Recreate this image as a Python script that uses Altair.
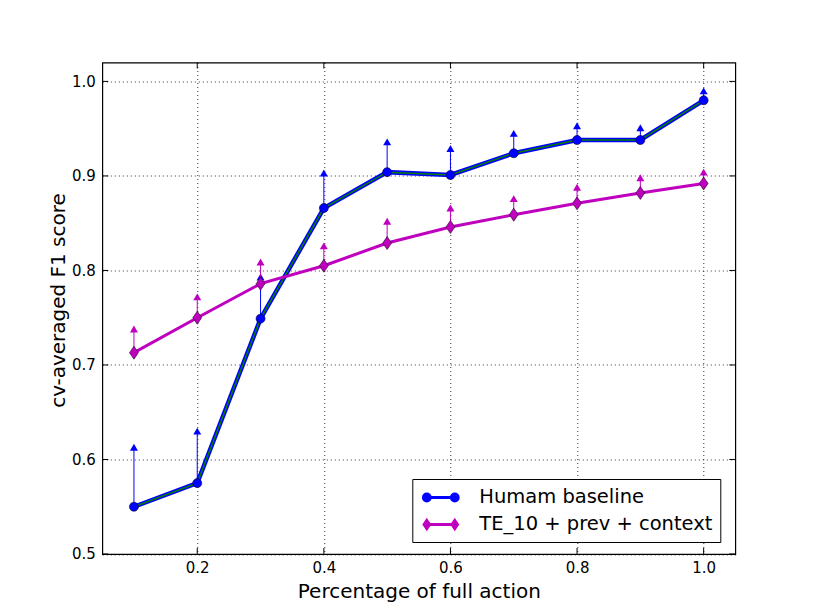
import altair as alt
import pandas as pd

# ---------------- data ----------------
pct = [0.1, 0.2, 0.3, 0.4, 0.5, 0.6, 0.7, 0.8, 0.9, 1.0]
human_f1 = [0.550, 0.575, 0.749, 0.866, 0.904, 0.901, 0.924, 0.938, 0.938, 0.980]
human_upper = [0.613, 0.630, 0.793, 0.903, 0.936, 0.929, 0.945, 0.953, 0.951, 0.990]
te_f1 = [0.713, 0.750, 0.786, 0.805, 0.829, 0.846, 0.859, 0.871, 0.882, 0.892]
te_upper = [0.738, 0.772, 0.809, 0.826, 0.852, 0.866, 0.876, 0.888, 0.898, 0.904]
series_names = ["Humam baseline", "TE_10 + prev + context"]
x_ticks = [0.2, 0.4, 0.6, 0.8, 1.0]
y_ticks = [0.5, 0.6, 0.7, 0.8, 0.9, 1.0]

df_h = pd.DataFrame({"pct": pct, "f1": human_f1, "upper": human_upper})
df_t = pd.DataFrame({"pct": pct, "f1": te_f1, "upper": te_upper})
df_xt = pd.DataFrame({"pct": x_ticks})
df_yt = pd.DataFrame({"f1": y_ticks})
df_leg = pd.DataFrame({"series": series_names})

# ---------------- style ----------------
W, H = 633, 491.5
FONT = "DejaVu Sans"
BLUE = "#0000ff"
GREEN = "#007f00"
MAG = "#bf00bf"
TICK = 6

xscale = alt.Scale(domain=[0.05, 1.05], nice=False, zero=False)
yscale = alt.Scale(domain=[0.5, 1.02], nice=False, zero=False)
xaxis = alt.Axis(values=x_ticks, format=".1f", title="Percentage of full action",
                 grid=True, ticks=False, tickSize=0, domain=False,
                 labelPadding=7, labelFontSize=15, labelFont=FONT, labelColor="black",
                 titleFont=FONT, titleFontSize=20, titleFontWeight="normal", titleColor="black",
                 titleY=44, titleBaseline="alphabetic")
yaxis = alt.Axis(values=y_ticks, format=".1f", title="cv-averaged F1 score",
                 grid=True, ticks=False, tickSize=0, domain=False,
                 labelPadding=7, labelFontSize=15, labelFont=FONT, labelColor="black",
                 titleFont=FONT, titleFontSize=20, titleFontWeight="normal", titleColor="black",
                 titleX=-37.5, titleY=237.5, titleAngle=270, titleAlign="center",
                 titleBaseline="alphabetic")

X = alt.X("pct:Q", scale=xscale, axis=xaxis)
Y = alt.Y("f1:Q", scale=yscale, axis=yaxis)


def circle_path(c, r):
    return f"M{c - r},0A{r},{r} 0 1,0 {c + r},0A{r},{r} 0 1,0 {c - r},0Z"


def diamond_path(c, w, h):
    return f"M{c},{-h}L{c + w},0L{c},{h}L{c - w},0Z"


thin_diamond = "M0,-1L0.68,0L0,1L-0.68,0Z"
leg_h = "M-1.4,0L1.4,0" + circle_path(-1.4, 0.34) + circle_path(1.4, 0.34)
leg_t = "M-1.4,0L1.4,0" + diamond_path(-1.4, 0.27, 0.4) + diamond_path(1.4, 0.27, 0.4)

# ---------------- layers ----------------
blue_line = alt.Chart(df_h).mark_line(color=BLUE, strokeWidth=4.5).encode(x=X, y=Y)
green_line = alt.Chart(df_h).mark_line(color=GREEN, strokeWidth=1.5).encode(x=X, y=Y)
blue_err = alt.Chart(df_h).mark_rule(color=BLUE, strokeWidth=1).encode(x=X, y=Y, y2="upper:Q")
blue_tri = alt.Chart(df_h).mark_point(shape="triangle-up", filled=True, color=BLUE,
                                      size=64, opacity=1).encode(x=X, y=alt.Y("upper:Q", scale=yscale, axis=yaxis))
blue_pts = alt.Chart(df_h).mark_point(shape="circle", filled=True, fill=BLUE, stroke="#000033",
                                      strokeWidth=0.6, size=81, opacity=1).encode(x=X, y=Y)

mag_line = alt.Chart(df_t).mark_line(color=MAG, strokeWidth=3).encode(x=X, y=Y)
mag_err = alt.Chart(df_t).mark_rule(color=MAG, strokeWidth=1).encode(x=X, y=Y, y2="upper:Q")
mag_tri = alt.Chart(df_t).mark_point(shape="triangle-up", filled=True, color=MAG,
                                     size=64, opacity=1).encode(x=X, y=alt.Y("upper:Q", scale=yscale, axis=yaxis))
mag_pts = alt.Chart(df_t).mark_point(shape=thin_diamond, filled=True, fill=MAG, stroke="#220022",
                                     strokeWidth=0.6, size=169, opacity=1).encode(x=X, y=Y)

# inward tick marks on all four sides
tick_b = alt.Chart(df_xt).mark_rule(color="black", strokeWidth=1).encode(
    x=X, y=alt.value(H), y2=alt.value(H - TICK))
tick_t = alt.Chart(df_xt).mark_rule(color="black", strokeWidth=1).encode(
    x=X, y=alt.value(0), y2=alt.value(TICK))
tick_l = alt.Chart(df_yt).mark_rule(color="black", strokeWidth=1).encode(
    y=Y, x=alt.value(0), x2=alt.value(TICK))
tick_r = alt.Chart(df_yt).mark_rule(color="black", strokeWidth=1).encode(
    y=Y, x=alt.value(W - TICK), x2=alt.value(W))

# legend (empty data, explicit domain)
legend = alt.Legend(title=None, orient="none", legendX=310, legendY=416.5,
                    labelFont=FONT, labelFontSize=19.5, labelColor="black", labelLimit=500,
                    labelOffset=27, symbolOffset=10, symbolSize=400, symbolStrokeWidth=3,
                    symbolOpacity=1, rowPadding=6, padding=7,
                    strokeColor="black", fillColor="white", cornerRadius=0)
sc_fill = alt.Scale(domain=series_names, range=[BLUE, MAG])
sc_shape = alt.Scale(domain=series_names, range=[leg_h, leg_t])
leg_layer = alt.Chart(df_leg).mark_point(size=400, strokeWidth=3, opacity=1).encode(
    fill=alt.Fill("series:N", scale=sc_fill, legend=legend, sort=series_names),
    stroke=alt.Stroke("series:N", scale=sc_fill, legend=legend, sort=series_names),
    shape=alt.Shape("series:N", scale=sc_shape, legend=legend, sort=series_names),
).transform_filter("false")

chart = alt.layer(
    blue_line, green_line, blue_err, blue_tri, blue_pts,
    mag_line, mag_err, mag_tri, mag_pts,
    tick_b, tick_t, tick_l, tick_r, leg_layer,
).properties(
    width=W, height=H,
    autosize=alt.AutoSizeParams(type="none"),
    padding={"left": 94.3, "top": 54.5, "right": 70, "bottom": 55},
    background="white",
).configure_view(
    stroke="black", strokeWidth=1.2, fill="white"
).configure_axis(
    gridColor="black", gridDash=[1, 3], gridWidth=0.8, gridOpacity=1
)

chart.save("out.html", embed_options={"renderer": "svg", "actions": False})
